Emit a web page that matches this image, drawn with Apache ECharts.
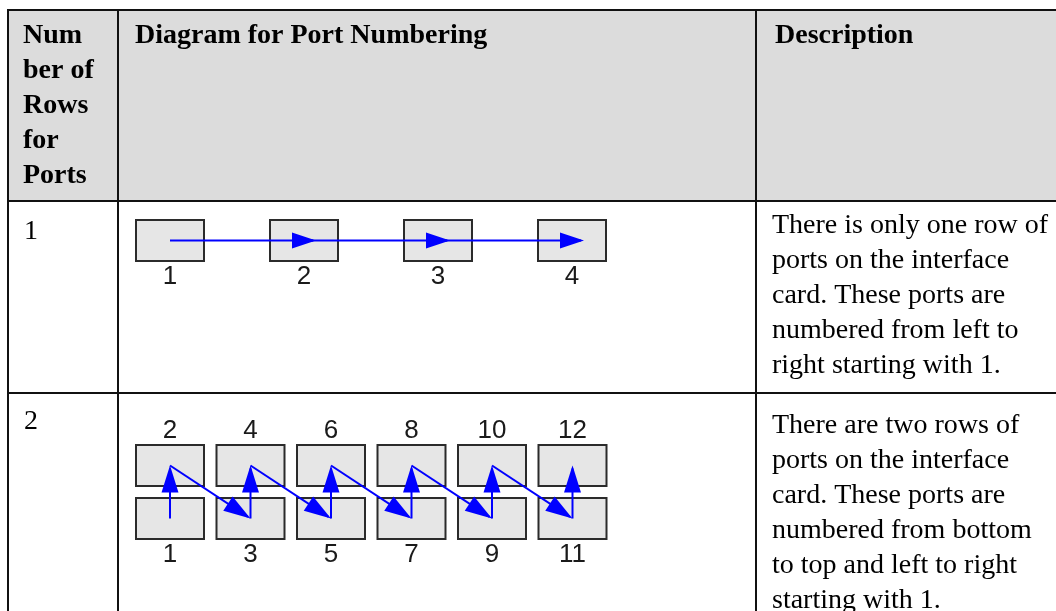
<!DOCTYPE html>
<html><head><meta charset="utf-8">
<script src="https://cdn.jsdelivr.net/npm/echarts@6/dist/echarts.min.js"></script>
<style>html,body{margin:0;padding:0;background:#fff}#c{width:1056px;height:611px}</style>
</head><body><div id="c"></div>
<script>
// ---- table content ----
const headerTitles = ['Num\nber of\nRows\nfor\nPorts', 'Diagram for Port Numbering', 'Description'];
const rowLabels = ['1', '2'];
const descriptions = [
  ['There is only one row of', 'ports on the interface', 'card. These ports are', 'numbered from left to', 'right starting with 1.'],
  ['There are two rows of', 'ports on the interface', 'card. These ports are', 'numbered from bottom', 'to top and left to right', 'starting with 1.']
];
// ---- diagram 1: one row of ports ----
const row1Cols = [0, 1, 2, 3];
const row1Numbers = ['1', '2', '3', '4'];
const row1Path = [[0, 0], [1, 0], [2, 0], [3, 0]];
// ---- diagram 2: two rows of ports ----
const row2Cols = [0, 1, 2, 3, 4, 5];
const row2TopNumbers = ['2', '4', '6', '8', '10', '12'];
const row2BottomNumbers = ['1', '3', '5', '7', '9', '11'];
const row2Path = [[0,0],[0,1],[1,0],[1,1],[2,0],[2,1],[3,0],[3,1],[4,0],[4,1],[5,0],[5,1]];

const chart = echarts.init(document.getElementById('c'), null, {renderer: 'canvas'});

function boxSeries(gi, items) {
  return {
    type: 'custom', coordinateSystem: 'cartesian2d', xAxisIndex: gi, yAxisIndex: gi, z: 2,
    silent: true, clip: false,
    data: items.map(d => [d.x, d.y]),
    renderItem: (params, api) => {
      const d = items[params.dataIndex];
      const c = api.coord([api.value(0), api.value(1)]);
      return {type: 'group', children: [
        {type: 'rect', shape: {x: c[0] - 34, y: c[1] - 20.5, width: 68, height: 41},
         style: {fill: '#e6e6e6', stroke: '#2b2b2b', lineWidth: 2}},
        {type: 'text', x: c[0], y: c[1] + (d.side === 'below' ? 36 : -35),
         style: {text: d.text, font: '26px "Liberation Sans", Arial, sans-serif', fill: '#1a1a1a',
                 align: 'center', verticalAlign: 'middle'}}
      ]};
    }
  };
}

function pathToSegments(path) {
  const segs = [];
  for (let i = 0; i < path.length - 1; i++) segs.push([path[i][0], path[i][1], path[i+1][0], path[i+1][1]]);
  return segs;
}

function arrowSeries(gi, path, tipOffset, headLen, headHalf) {
  return {
    type: 'custom', coordinateSystem: 'cartesian2d', xAxisIndex: gi, yAxisIndex: gi, z: 3,
    silent: true, clip: false,
    data: pathToSegments(path),
    renderItem: (params, api) => {
      const a = api.coord([api.value(0), api.value(1)]);
      const b = api.coord([api.value(2), api.value(3)]);
      const dx = b[0] - a[0], dy = b[1] - a[1], L = Math.hypot(dx, dy);
      const ux = dx / L, uy = dy / L, nx = -uy, ny = ux;
      const tip = [b[0] + ux * tipOffset, b[1] + uy * tipOffset];
      const base = [tip[0] - ux * headLen, tip[1] - uy * headLen];
      return {type: 'group', children: [
        {type: 'line', shape: {x1: a[0], y1: a[1], x2: tip[0] - ux * 3, y2: tip[1] - uy * 3},
         style: {stroke: '#0000ff', lineWidth: 2}},
        {type: 'polygon', shape: {points: [tip,
            [base[0] + nx * headHalf, base[1] + ny * headHalf],
            [base[0] - nx * headHalf, base[1] - ny * headHalf]]},
         style: {fill: '#0000ff'}}
      ]};
    }
  };
}

const row1Items = row1Cols.map((c, i) => ({x: c, y: 0, text: row1Numbers[i], side: 'below'}));
const row2Items = row2Cols.map((c, i) => ({x: c, y: 1, text: row2TopNumbers[i], side: 'above'}))
  .concat(row2Cols.map((c, i) => ({x: c, y: 0, text: row2BottomNumbers[i], side: 'below'})));

const serifBold = 'bold 28px "Liberation Serif", "Times New Roman", serif';
const serif = '28px "Liberation Serif", "Times New Roman", serif';
const lineStyle = {stroke: '#111', lineWidth: 2};

const graphics = [
  {type: 'rect', z: 0, shape: {x: 8, y: 10, width: 1060, height: 191}, style: {fill: '#dcdcdc'}},
  {type: 'line', z: 1, shape: {x1: 7, y1: 10, x2: 1060, y2: 10}, style: lineStyle},
  {type: 'line', z: 1, shape: {x1: 7, y1: 201, x2: 1060, y2: 201}, style: lineStyle},
  {type: 'line', z: 1, shape: {x1: 7, y1: 393, x2: 1060, y2: 393}, style: lineStyle},
  {type: 'line', z: 1, shape: {x1: 8, y1: 10, x2: 8, y2: 620}, style: lineStyle},
  {type: 'line', z: 1, shape: {x1: 118, y1: 10, x2: 118, y2: 620}, style: lineStyle},
  {type: 'line', z: 1, shape: {x1: 756, y1: 10, x2: 756, y2: 620}, style: lineStyle},
  {type: 'text', z: 1, x: 23, y: 18, style: {text: headerTitles[0], font: serifBold, fill: '#000', lineHeight: 35, verticalAlign: 'top'}},
  {type: 'text', z: 1, x: 135, y: 18, style: {text: headerTitles[1], font: serifBold, fill: '#000', lineHeight: 35, verticalAlign: 'top'}},
  {type: 'text', z: 1, x: 775, y: 18, style: {text: headerTitles[2], font: serifBold, fill: '#000', lineHeight: 35, verticalAlign: 'top'}},
  {type: 'text', z: 1, x: 24, y: 214, style: {text: rowLabels[0], font: serif, fill: '#000', lineHeight: 35, verticalAlign: 'top'}},
  {type: 'text', z: 1, x: 24, y: 404, style: {text: rowLabels[1], font: serif, fill: '#000', lineHeight: 35, verticalAlign: 'top'}},
  {type: 'text', z: 1, x: 772, y: 208.5, style: {text: descriptions[0].join('\n'), font: serif, fill: '#000', lineHeight: 35, verticalAlign: 'top'}},
  {type: 'text', z: 1, x: 772, y: 408, style: {text: descriptions[1].join('\n'), font: serif, fill: '#000', lineHeight: 35, verticalAlign: 'top'}}
];

chart.setOption({
  animation: false,
  backgroundColor: '#ffffff',
  grid: [
    {left: 103, top: 220, width: 536, height: 41, show: false},
    {left: 129.75, top: 439, width: 483, height: 106, show: false}
  ],
  xAxis: [
    {gridIndex: 0, type: 'value', min: -0.5, max: 3.5, show: false},
    {gridIndex: 1, type: 'value', min: -0.5, max: 5.5, show: false}
  ],
  yAxis: [
    {gridIndex: 0, type: 'value', min: -0.5, max: 0.5, show: false},
    {gridIndex: 1, type: 'value', min: -0.5, max: 1.5, show: false}
  ],
  graphic: {elements: graphics},
  series: [
    boxSeries(0, row1Items),
    arrowSeries(0, row1Path, 12, 24, 8),
    boxSeries(1, row2Items),
    arrowSeries(1, row2Path, 0, 27, 8.5)
  ]
});
</script></body></html>
